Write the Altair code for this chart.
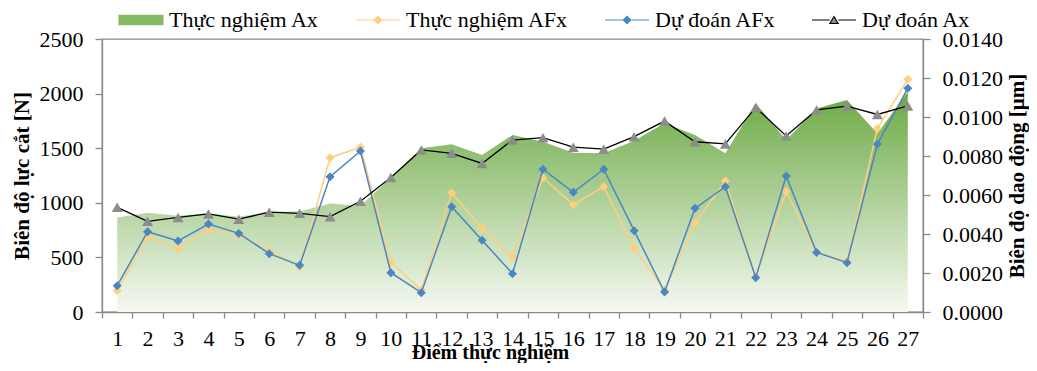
import altair as alt
import pandas as pd

# ---------------- data ----------------
points = list(range(1, 28))

# Thực nghiệm Ax  (right axis, µm)
ax_exp = [0.00484, 0.00509, 0.00494, 0.00506, 0.00489, 0.00514, 0.00516, 0.00557, 0.00544,
          0.00690, 0.00840, 0.00860, 0.00805, 0.00908, 0.00873, 0.00817, 0.00814, 0.00878,
          0.00968, 0.00908, 0.00814, 0.01070, 0.00882, 0.01044, 0.01087, 0.00916, 0.01130]
# Thực nghiệm AFx (left axis, N)
afx_exp = [195, 690, 580, 751, 705, 562, 415, 1413, 1508, 455, 201, 1093, 766, 504,
           1227, 983, 1148, 583, 201, 812, 1200, 325, 1105, 543, 467, 1680, 2132]
# Dự đoán AFx (left axis, N)
afx_pred = [241, 735, 650, 806, 720, 534, 427, 1239, 1474, 360, 177, 964, 656, 351,
            1307, 1096, 1307, 745, 183, 949, 1148, 314, 1245, 546, 452, 1538, 2048]
# Dự đoán Ax (right axis, µm)
ax_pred = [0.00537, 0.00465, 0.00485, 0.00503, 0.00476, 0.00512, 0.00506, 0.00489, 0.00568,
           0.00690, 0.00831, 0.00814, 0.00762, 0.00882, 0.00894, 0.00845, 0.00835, 0.00899,
           0.00979, 0.00873, 0.00862, 0.01049, 0.00903, 0.01036, 0.01056, 0.01013, 0.01057]

series_names = ["Thực nghiệm Ax", "Thực nghiệm AFx", "Dự đoán AFx", "Dự đoán Ax"]

left_ticks = [0, 500, 1000, 1500, 2000, 2500]
right_ticks = [0.0, 0.002, 0.004, 0.006, 0.008, 0.010, 0.012, 0.014]

df = pd.DataFrame({"pt": points, "ax_exp": ax_exp, "afx_exp": afx_exp,
                   "afx_pred": afx_pred, "ax_pred": ax_pred})
long = pd.concat([pd.DataFrame({"pt": points, "series": n, "value": v})
                  for n, v in zip(series_names, [ax_exp, afx_exp, afx_pred, ax_pred])],
                 ignore_index=True)

# ---------------- styles ----------------
FONT = "Liberation Serif"
GRAY = "#898989"
YEL = "#FFCF7E"
BLUE = "#4A86C4"
TRI = "#8C8C8C"
GREEN_PATCH = "#84BB62"

x_axis = alt.Axis(title="Điểm thực nghiệm", labelAngle=0, tickBand="extent", tickSize=6,
                  labelFontSize=22, titleFontSize=20, titleFontWeight="bold",
                  labelBaseline="alphabetic", labelPadding=27, labelOverlap=False,
                  titleX=388, titleY=46, titleBaseline="alphabetic", titleAlign="center")


def X():
    return alt.X("pt:O", bandPosition=0.5,
                 scale=alt.Scale(type="band", paddingInner=0, paddingOuter=0),
                 axis=x_axis)


left_scale = alt.Scale(domain=[0, 2500], nice=False, zero=True)
right_scale = alt.Scale(domain=[0, 0.014], nice=False, zero=True)

left_axis = alt.Axis(orient="left", values=left_ticks, format="d", title="Biên độ lực cắt [N]",
                     tickSize=7, labelPadding=12, labelFontSize=22, titleFontSize=21,
                     titleFontWeight="bold", titleAngle=270, titleX=-74, titleY=136.5,
                     titleBaseline="alphabetic", titleAlign="center")
right_axis = alt.Axis(orient="right", values=right_ticks, format=".4f",
                      title="Biên độ dao động [µm]",
                      tickSize=7, labelPadding=12, labelFontSize=22, titleFontSize=21,
                      titleFontWeight="bold", titleAngle=270, titleX=100, titleY=136.5,
                      titleBaseline="alphabetic", titleAlign="center")

gradient = alt.Gradient(gradient="linear",
                        stops=[alt.GradientStop(color="#6BA943", offset=0),
                               alt.GradientStop(color="#F5F9F2", offset=1)],
                        x1=0, x2=0, y1=0, y2=1)

area = alt.Chart(df).mark_area(color=gradient).encode(
    x=X(), y=alt.Y("ax_exp:Q", scale=right_scale, axis=right_axis))

y_line = alt.Chart(df).mark_line(color=YEL, strokeWidth=1.5).encode(
    x=X(), y=alt.Y("afx_exp:Q", scale=left_scale, axis=left_axis))
y_pts = alt.Chart(df).mark_point(shape="diamond", filled=True, size=81, color=YEL, opacity=1).encode(
    x=X(), y=alt.Y("afx_exp:Q", scale=left_scale, axis=None))

b_line = alt.Chart(df).mark_line(color=BLUE, strokeWidth=1.5).encode(
    x=X(), y=alt.Y("afx_pred:Q", scale=left_scale, axis=None))
b_pts = alt.Chart(df).mark_point(shape="diamond", filled=True, size=81, color=BLUE, opacity=1).encode(
    x=X(), y=alt.Y("afx_pred:Q", scale=left_scale, axis=None))

k_line = alt.Chart(df).mark_line(color="black", strokeWidth=1.3).encode(
    x=X(), y=alt.Y("ax_pred:Q", scale=right_scale, axis=None))
k_pts = alt.Chart(df).mark_point(shape="triangle-up", filled=True, size=120, color=TRI, opacity=1).encode(
    x=X(), y=alt.Y("ax_pred:Q", scale=right_scale, axis=None))

# ---------------- legend: one merged legend (fill + stroke + shape) ----------------
legend = alt.Legend(title=None, orient="none", legendX=16, legendY=-42, direction="horizontal",
                    symbolSize=1936, labelOffset=5, columnPadding=33, labelFontSize=22,
                    labelFont=FONT, labelColor="black", symbolOpacity=1, padding=0,
                    labelLimit=400, symbolStrokeWidth=1.1)

legend_paths = ["M-1,-0.21L1,-0.21L1,0.21L-1,0.21Z",
                "M-1,0L1,0M0,-0.17L0.17,0L0,0.17L-0.17,0Z",
                "M-1,0L1,0M0,-0.17L0.17,0L0,0.17L-0.17,0Z",
                "M-1,0L-0.2,0M0.2,0L1,0M0,-0.16L0.19,0.16L-0.19,0.16Z"]

carrier = alt.Chart(long).mark_point(filled=True, opacity=0, size=0).encode(
    x=X(), y=alt.Y("value:Q", axis=None),
    fill=alt.Fill("series:N",
                  scale=alt.Scale(domain=series_names, range=[GREEN_PATCH, YEL, BLUE, TRI]),
                  legend=legend),
    stroke=alt.Stroke("series:N",
                      scale=alt.Scale(domain=series_names, range=[GREEN_PATCH, YEL, BLUE, "black"]),
                      legend=legend),
    shape=alt.Shape("series:N", scale=alt.Scale(domain=series_names, range=legend_paths),
                    legend=legend))

chart = alt.layer(area, y_line, y_pts, b_line, b_pts, k_line, k_pts,
                  carrier).resolve_scale(y="independent").properties(
    width=821, height=273,
    autosize=alt.AutoSizeParams(type="none"),
    padding={"left": 94, "top": 31, "right": 106, "bottom": 51},
).configure(font=FONT).configure_axis(
    labelFont=FONT, titleFont=FONT, labelColor="black", titleColor="black",
    domainColor=GRAY, tickColor=GRAY, domainWidth=1.3, tickWidth=1.3, grid=False
).configure_view(stroke=GRAY, strokeWidth=1.3)

chart.save("out.html", embed_options={"renderer": "svg", "actions": False})
